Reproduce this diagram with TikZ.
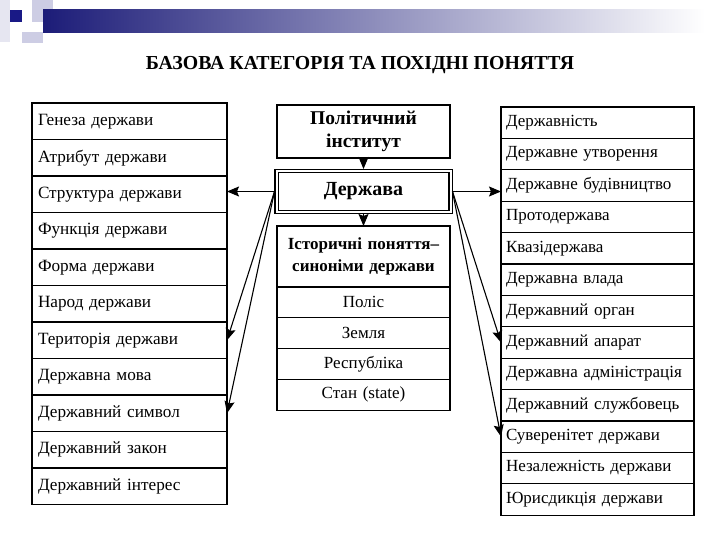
\documentclass[tikz,border=0pt]{standalone}
\usepackage{fontspec}
\setmainfont{Liberation Serif}
\usepackage{tikz}
\usetikzlibrary{shapes,arrows.meta,positioning,calc}

\definecolor{slidenavy}{RGB}{28,28,120}
\definecolor{slidepale}{RGB}{205,205,228}

\begin{document}
\begin{tikzpicture}[
    x=1pt, y=-1pt,
    lrow/.style={rectangle, draw, line width=1.2pt, minimum width=195pt, minimum height=36.5pt,
                 text width=183pt, align=left, inner sep=0pt, outer sep=0pt,
                 font=\fontsize{17.2}{19}\selectfont},
    rrow/.style={rectangle, draw, line width=1.2pt, minimum width=193pt, minimum height=31.4pt,
                 text width=183pt, align=left, inner sep=0pt, outer sep=0pt,
                 font=\fontsize{17}{19}\selectfont},
    crow/.style={rectangle, draw, line width=1.2pt, minimum width=173pt, minimum height=30.8pt,
                 text width=165pt, align=center, inner sep=0pt, outer sep=0pt,
                 font=\fontsize{17}{19}\selectfont},
    hbox/.style={rectangle, draw, line width=1.2pt, minimum width=173pt, text width=170pt,
                 align=center, inner sep=0pt, outer sep=0pt, font=\bfseries\fontsize{17}{22}\selectfont},
    arrow/.style={line width=1.1pt, arrows={-Stealth[length=12pt, width=10pt, inset=2pt]}}
]
\useasboundingbox (0,0) rectangle (720,540);

%% -- slide header --------------------------------------------------
\fill[slidepale!50] (0,0) rectangle (10,42);
\fill[slidepale] (32,0) rectangle (53,22);
\fill[slidepale] (22,32) rectangle (43,43);
\shade[left color=slidenavy, right color=white] (43,10) rectangle (705,33);
\fill[slidenavy!90!blue] (10,10) rectangle (22,22);

%% -- title ---------------------------------------------------------
\node[font=\bfseries\fontsize{19.8}{22}\selectfont] (title) at (360,65)
    {БАЗОВА КАТЕГОРІЯ ТА ПОХІДНІ ПОНЯТТЯ};

%% -- left column ---------------------------------------------------
\node[lrow, anchor=north west] (genesis) at (32,103) {Генеза держави};
\node[lrow, below=0pt of genesis]  (attrib)   {Атрибут держави};
\node[lrow, below=0pt of attrib]   (struct)   {Структура держави};
\node[lrow, below=0pt of struct]   (func)     {Функція держави};
\node[lrow, below=0pt of func]     (form)     {Форма держави};
\node[lrow, below=0pt of form]     (people)   {Народ держави};
\node[lrow, below=0pt of people]   (terr)     {Територія держави};
\node[lrow, below=0pt of terr]     (lang)     {Державна мова};
\node[lrow, below=0pt of lang]     (symbol)   {Державний символ};
\node[lrow, below=0pt of symbol]   (law)      {Державний закон};
\node[lrow, below=0pt of law]      (interest) {Державний інтерес};

%% -- centre --------------------------------------------------------
\node[hbox, anchor=north west, minimum height=53pt, font=\bfseries\fontsize{19.5}{23}\selectfont]
    (polit) at (277,105) {Політичний\\інститут};
\node[hbox, below=11pt of polit, minimum width=174pt, minimum height=41pt, double,
      double distance=2pt, outer sep=2pt, font=\bfseries\fontsize{20}{22}\selectfont]
    (derzh) {Держава};
\node[hbox, below=12pt of derzh, minimum height=61pt] (hist)
    {Історичні поняття–\\синоніми держави};
\node[crow, below=0pt of hist]   (polis)  {Поліс};
\node[crow, below=0pt of polis]  (zemlia) {Земля};
\node[crow, below=0pt of zemlia] (respub) {Республіка};
\node[crow, below=0pt of respub] (stan)   {Стан (state)};

%% -- right column --------------------------------------------------
\node[rrow, anchor=north west] (statehood) at (501,107) {Державність};
\node[rrow, below=0pt of statehood]    (formation)    {Державне утворення};
\node[rrow, below=0pt of formation]    (building)     {Державне будівництво};
\node[rrow, below=0pt of building]     (proto)        {Протодержава};
\node[rrow, below=0pt of proto]        (quasi)        {Квазідержава};
\node[rrow, below=0pt of quasi]        (power)        {Державна влада};
\node[rrow, below=0pt of power]        (organ)        {Державний орган};
\node[rrow, below=0pt of organ]        (apparatus)    {Державний апарат};
\node[rrow, below=0pt of apparatus]    (admin)        {Державна адміністрація};
\node[rrow, below=0pt of admin]        (servant)      {Державний службовець};
\node[rrow, below=0pt of servant]      (sovereignty)  {Суверенітет держави};
\node[rrow, below=0pt of sovereignty]  (independence) {Незалежність держави};
\node[rrow, below=0pt of independence] (jurisdiction) {Юрисдикція держави};

%% -- arrows --------------------------------------------------------
\draw[arrow] (polit) -- (derzh);
\draw[arrow] (derzh) -- (hist);
\draw[arrow] (derzh.west) -- (derzh.west -| struct.east);
\draw[arrow] (derzh.east) -- (derzh.east -| building.west);
\draw[arrow] (derzh.west) -- (terr.east);
\draw[arrow] (derzh.west) -- (symbol.east);
\draw[arrow] (derzh.east) -- (apparatus.west);
\draw[arrow] (derzh.east) -- (sovereignty.west);

\end{tikzpicture}
\end{document}
